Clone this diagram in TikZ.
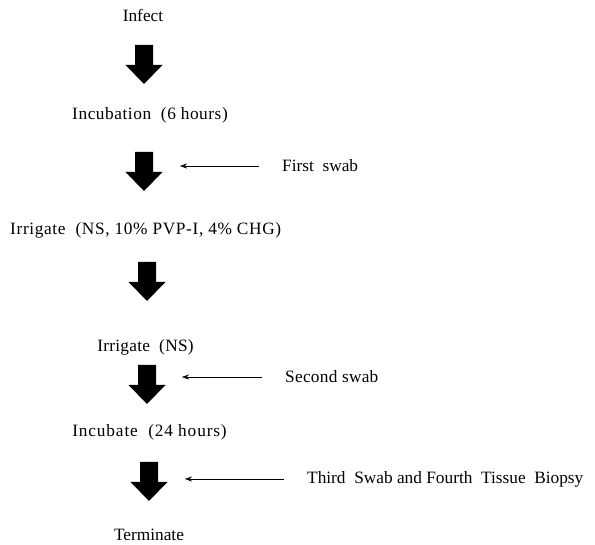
\documentclass[tikz,border=0pt]{standalone}
\usepackage{fontspec}
\setmainfont{Liberation Serif}
\usetikzlibrary{arrows.meta,positioning}

\begin{document}
\begin{tikzpicture}[x=1pt,y=-1pt,>={Stealth[length=7pt,width=5pt]},
  stagebox/.style={inner sep=0pt,font=\fontsize{17.3}{20}\selectfont},
  widebox/.style={inner sep=0pt,font=\fontsize{17.3}{20}\selectfont\addfontfeatures{LetterSpace=#1}},
  swabline/.style={->,thin,shorten <=23pt}]
 \useasboundingbox (0,0) rectangle (595,545);
 % steps of the protocol
 \node[stagebox] (infect) at (143,15) {Infect};
 \node[widebox=3.2] (incubA) at (150,115) {Incubation\ \ (6 hours)};
 \node[widebox=3.7,anchor=west] (irrA) at (10,230) {Irrigate\ \ (NS, 10\% PVP-I, 4\% CHG)};
 \node[widebox=1.5] (irrB) at (145.5,347) {Irrigate\ \ (NS)};
 \node[widebox=5] (incubB) at (149.5,432) {Incubate\ \ (24 hours)};
 \node[stagebox] (term) at (149,535) {Terminate};
 % sampling points
 \node[stagebox,anchor=west] (swabA) at (282,166) {First\ \ swab};
 \node[widebox=1.5,anchor=west] (swabB) at (285,377) {Second swab};
 \node[stagebox,anchor=west] (swabC) at (307,479) {Third\ \ Swab and Fourth\ \ Tissue\ \ Biopsy};
 % block arrows
 \foreach \x/\y in {144/45,144/152,147/262,147/365,149/462}
  \fill (\x-9,\y) -- (\x+9,\y) -- (\x+9,\y+20) -- (\x+18.5,\y+20) -- (\x,\y+39)
        -- (\x-18.5,\y+20) -- (\x-9,\y+20) -- cycle;
 \coordinate (tipA) at (180,166);
 \coordinate (tipB) at (182,377);
 \coordinate (tipC) at (185,479);
 \draw[swabline] (swabA.west) -- (tipA);
 \draw[swabline] (swabB.west) -- (tipB);
 \draw[swabline] (swabC.west) -- (tipC);
\end{tikzpicture}
\end{document}
